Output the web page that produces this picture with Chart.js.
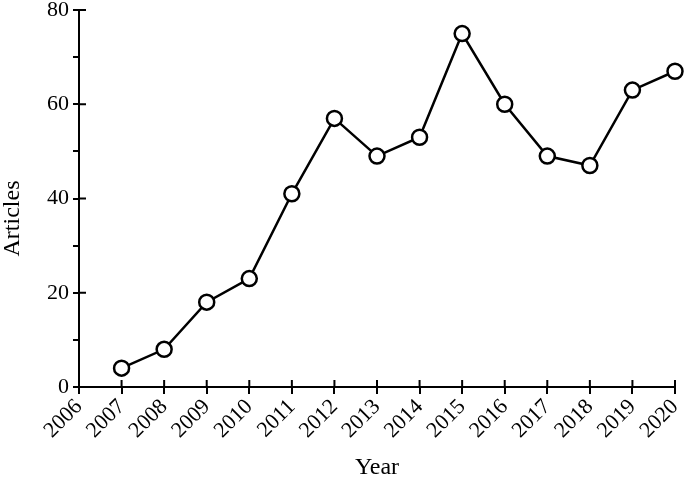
<!DOCTYPE html>
<html>
<head>
<meta charset="utf-8">
<script src="https://cdn.jsdelivr.net/npm/chart.js@4.4.0/dist/chart.umd.min.js"></script>
<style>
  html, body { margin: 0; padding: 0; background: #fff; }
  #wrap { width: 685px; height: 478px; position: relative; }
</style>
</head>
<body>
<div id="wrap"><canvas id="chart"></canvas></div>
<script>
// data
const years = ['2006', '2007', '2008', '2009', '2010', '2011', '2012', '2013',
               '2014', '2015', '2016', '2017', '2018', '2019', '2020'];
const articles = [null, 4, 8, 18, 23, 41, 57, 49, 53, 75, 60, 49, 47, 63, 67];

const serif = "'Liberation Serif', 'Times New Roman', serif";

// inner half of the crossing tick marks + y title (sits a bit below centre in the original)
const axisExtras = {
  id: 'axisExtras',
  afterDraw(chart) {
    const ctx = chart.ctx;
    const x = chart.scales.x, y = chart.scales.y;
    ctx.save();
    ctx.strokeStyle = '#000';
    ctx.lineWidth = 2;
    ctx.beginPath();
    x.ticks.forEach((t, i) => {
      const px = x.getPixelForTick(i);
      ctx.moveTo(px, y.bottom);
      ctx.lineTo(px, y.bottom - 7);
    });
    y.ticks.forEach((t, i) => {
      if (t.value % 20 !== 0) return;
      const py = y.getPixelForTick(i);
      ctx.moveTo(x.left, py);
      ctx.lineTo(x.left + 7, py);
    });
    ctx.stroke();

    ctx.translate(13, (y.top + y.bottom) / 2 + 20);
    ctx.rotate(-Math.PI / 2);
    ctx.fillStyle = '#000';
    ctx.font = '24px ' + serif;
    ctx.textAlign = 'center';
    ctx.textBaseline = 'middle';
    ctx.fillText('Articles', 0, 0);
    ctx.restore();
  }
};

new Chart(document.getElementById('chart'), {
  type: 'line',
  data: {
    labels: years,
    datasets: [{
      data: articles,
      borderColor: '#000',
      borderWidth: 2.5,
      pointRadius: 7.5,
      pointHoverRadius: 7.5,
      pointBorderWidth: 2.5,
      pointBorderColor: '#000',
      pointBackgroundColor: '#fff',
      tension: 0
    }]
  },
  options: {
    responsive: true,
    maintainAspectRatio: false,
    animation: false,
    layout: { padding: { top: 9, right: 10, left: 0, bottom: 0 } },
    plugins: { legend: { display: false }, tooltip: { enabled: false } },
    scales: {
      x: {
        type: 'category',
        offset: false,
        grid: { display: true, drawOnChartArea: false, drawTicks: true, tickLength: 7, color: '#000', lineWidth: 2 },
        border: { display: true, color: '#000', width: 2 },
        ticks: {
          color: '#000',
          font: { family: serif, size: 22 },
          maxRotation: 45, minRotation: 45,
          autoSkip: false,
          padding: 0
        },
        title: {
          display: true, text: 'Year', color: '#000',
          font: { family: serif, size: 24 },
          padding: { top: 0, bottom: -4 }
        },
        afterFit(s) { s.height = 91; s.paddingLeft = 0; s.paddingRight = 0; }
      },
      y: {
        min: 0, max: 80,
        grid: { display: true, drawOnChartArea: false, drawTicks: true, tickLength: 6, color: '#000', lineWidth: 2 },
        border: { display: true, color: '#000', width: 2 },
        ticks: {
          stepSize: 10,
          color: '#000',
          font: { family: serif, size: 22 },
          padding: 4,
          callback: v => (v % 20 === 0 ? v : '')
        },
        title: { display: false },
        afterFit(s) { s.width = 79; s.paddingTop = 0; s.paddingBottom = 0; }
      }
    }
  },
  plugins: [axisExtras]
});
</script>
</body>
</html>
